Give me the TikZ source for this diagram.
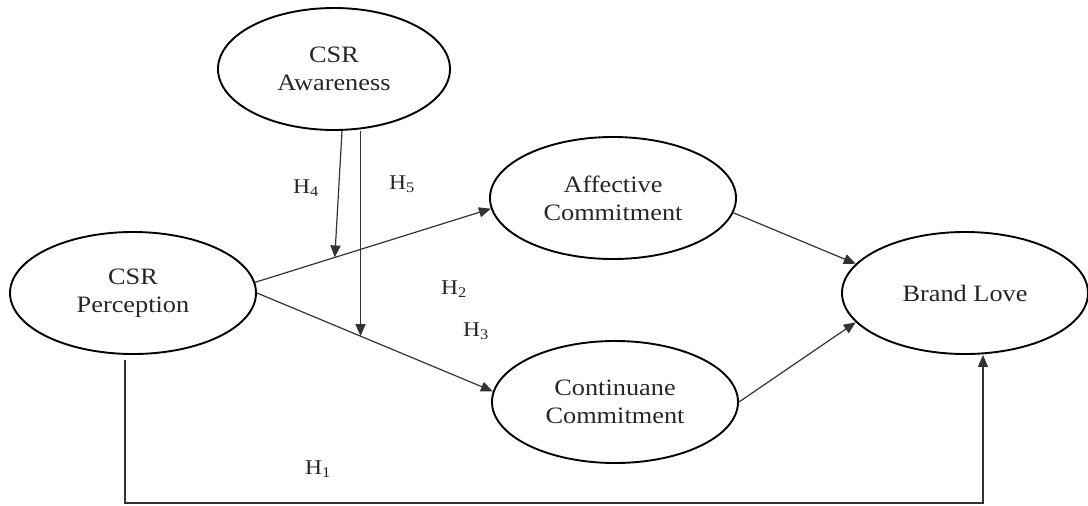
\documentclass[tikz,border=0pt]{standalone}
\usepackage{fontspec}
\setmainfont{Liberation Serif}[FakeStretch=1.12]
\usetikzlibrary{shapes.geometric,arrows.meta,calc}
\begin{document}
\begin{tikzpicture}[x=1pt,y=-1pt,
  construct/.style={draw=black,line width=1.9pt,ellipse,inner sep=0pt,minimum width=246pt,minimum height=122pt,align=center,text=black!85,font=\fontsize{23.5}{28}\selectfont},
  arr/.style={draw=black!80,line width=1.2pt,-{Triangle[length=12pt,width=10pt]}},
  hyp/.style={text=black!85,font=\fontsize{21}{24}\selectfont}]
\useasboundingbox (0,0) rectangle (1088,506);
\node[construct, minimum width=232pt] (aw) at (334,69) {CSR\\Awareness};
\node[construct] (perc) at (133,293) {CSR\\Perception};
\node[construct] (aff) at (613,198) {Affective\\Commitment};
\node[construct] (cont) at (615,402) {Continuane\\Commitment};
\node[construct] (bl) at (965,293) {Brand Love};
% mediation paths
\draw[arr] (perc.5) -- (aff.185);
\draw[arr] (perc.east) -- (cont.175);
\coordinate (m1) at ($(perc.5)!0.338!(aff.185)$);
\coordinate (m2) at ($(perc.east)!0.439!(cont.175)$);
% moderation arrows
\draw[arr] ([xshift=8pt]aw.south) -- (m1);
\draw[arr] (aw.south -| m2) -- (m2);
% to brand love
\draw[arr] (aff.-7) -- (bl.165);
\draw[arr] (cont.east) -- (bl.195);
% direct path
\coordinate (c1) at (983,503);
\draw[arr] ([xshift=-8pt,yshift=-5pt]perc.south) |- (c1) -- ([xshift=18pt]bl.south);
% labels
\node[hyp] (h4) at (306,188) {H\textsubscript{4}};
\node[hyp] (h5) at (402,184) {H\textsubscript{5}};
\node[hyp] (h2) at (454,289) {H\textsubscript{2}};
\node[hyp] (h3) at (476,331) {H\textsubscript{3}};
\node[hyp] (h1) at (318,469) {H\textsubscript{1}};
\end{tikzpicture}
\end{document}
